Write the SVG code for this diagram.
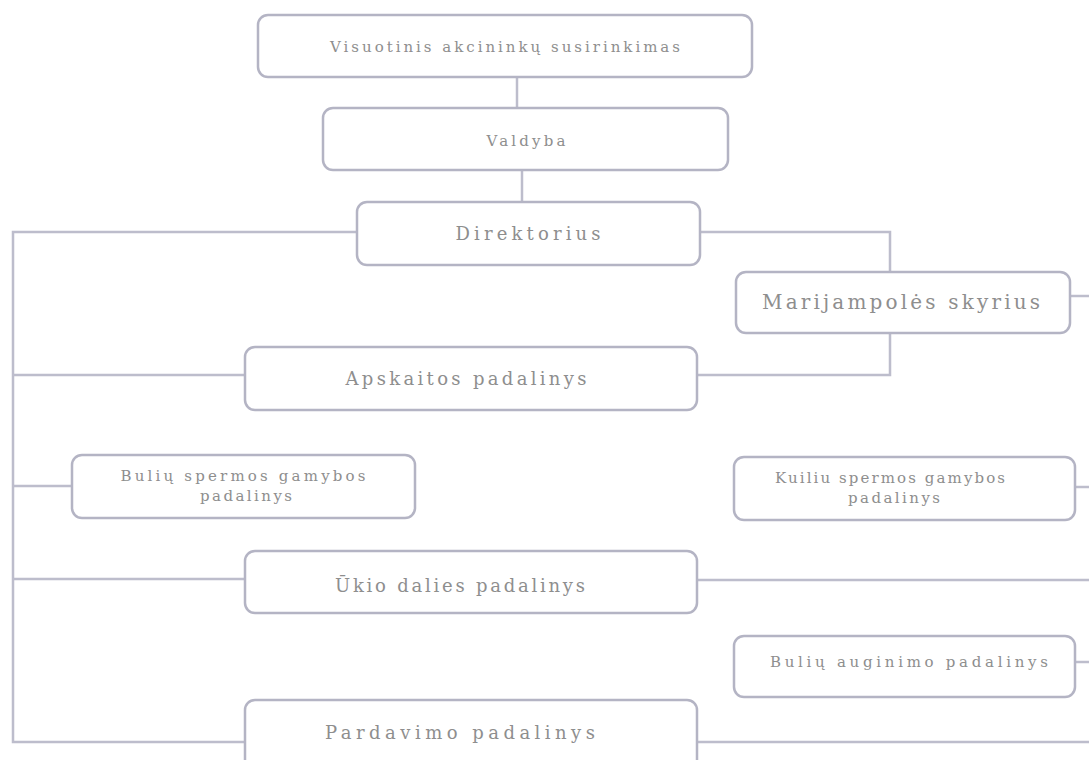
<svg xmlns="http://www.w3.org/2000/svg" width="1089" height="760" viewBox="0 0 1089 760">
<style>
.box{fill:#ffffff;stroke:#b4b4c4;stroke-width:2.5}
.ln{fill:none;stroke:#bdbdcc;stroke-width:2.5}
.t{font-family:"DejaVu Serif","Liberation Serif",serif;fill:#8e8e8e;text-anchor:middle}
.s{font-size:15px}
.m{font-size:18px}
.l{font-size:20px}
</style>
<rect width="1089" height="760" fill="#ffffff"/>
<g id="connectors">
<line class="ln" x1="517" y1="77" x2="517" y2="108"/>
<line class="ln" x1="522" y1="170" x2="522" y2="202"/>
<polyline class="ln" points="357,232 13,232 13,742 245,742"/>
<line class="ln" x1="13" y1="375" x2="245" y2="375"/>
<line class="ln" x1="13" y1="486" x2="72" y2="486"/>
<line class="ln" x1="13" y1="579" x2="245" y2="579"/>
<polyline class="ln" points="700,232 890,232 890,272"/>
<polyline class="ln" points="890,333 890,375 697,375"/>
<line class="ln" x1="1070" y1="296" x2="1089" y2="296"/>
<line class="ln" x1="1075" y1="487" x2="1089" y2="487"/>
<line class="ln" x1="697" y1="580" x2="1089" y2="580"/>
<line class="ln" x1="1075" y1="662" x2="1089" y2="662"/>
<line class="ln" x1="697" y1="742" x2="1089" y2="742"/>
</g>
<g id="n-visuotinis">
<rect class="box" x="258" y="15" width="494" height="62" rx="10"/>
<text class="t s" x="505" y="52" textLength="350" lengthAdjust="spacing">Visuotinis akcininkų susirinkimas</text>
</g>
<g id="n-valdyba">
<rect class="box" x="323" y="108" width="405" height="62" rx="10"/>
<text class="t s" x="526" y="146" textLength="79" lengthAdjust="spacing">Valdyba</text>
</g>
<g id="n-direktorius">
<rect class="box" x="357" y="202" width="343" height="63" rx="10"/>
<text class="t m" x="528" y="240" textLength="145" lengthAdjust="spacing">Direktorius</text>
</g>
<g id="n-marijampoles">
<rect class="box" x="736" y="272" width="334" height="61" rx="10"/>
<text class="t l" x="901" y="309" textLength="278" lengthAdjust="spacing">Marijampolės skyrius</text>
</g>
<g id="n-apskaitos">
<rect class="box" x="245" y="347" width="452" height="63" rx="10"/>
<text class="t m" x="466" y="385" textLength="241" lengthAdjust="spacing">Apskaitos padalinys</text>
</g>
<g id="n-buliu-spermos">
<rect class="box" x="72" y="455" width="343" height="63" rx="10"/>
<text class="t s" x="243" y="481" textLength="245" lengthAdjust="spacing">Bulių spermos gamybos</text>
<text class="t s" x="246" y="501" textLength="92" lengthAdjust="spacing">padalinys</text>
</g>
<g id="n-kuiliu-spermos">
<rect class="box" x="734" y="457" width="341" height="63" rx="10"/>
<text class="t s" x="890" y="483" textLength="230" lengthAdjust="spacing">Kuiliu spermos gamybos</text>
<text class="t s" x="894" y="503" textLength="92" lengthAdjust="spacing">padalinys</text>
</g>
<g id="n-ukio">
<rect class="box" x="245" y="551" width="452" height="62" rx="10"/>
<text class="t m" x="460" y="592" textLength="250" lengthAdjust="spacing">Ūkio dalies padalinys</text>
</g>
<g id="n-buliu-auginimo">
<rect class="box" x="734" y="636" width="341" height="61" rx="10"/>
<text class="t s" x="909" y="667" textLength="278" lengthAdjust="spacing">Bulių auginimo padalinys</text>
</g>
<g id="n-pardavimo">
<rect class="box" x="245" y="700" width="452" height="72" rx="10"/>
<text class="t m" x="460" y="739" textLength="270" lengthAdjust="spacing">Pardavimo padalinys</text>
</g>
</svg>
